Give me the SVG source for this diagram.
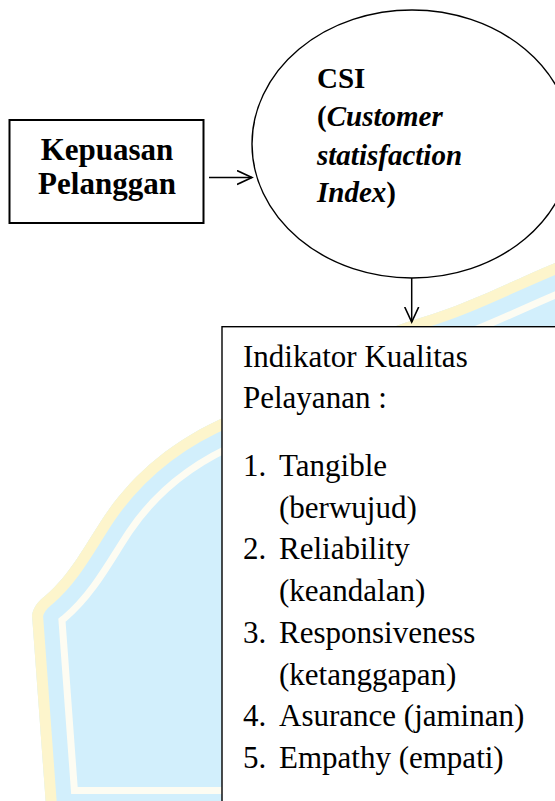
<svg xmlns="http://www.w3.org/2000/svg" width="555" height="801" viewBox="0 0 555 801">
<defs>
<style>
.node{fill:#ffffff;stroke:#000000}
.t{font-family:"Liberation Serif","Times New Roman",serif;font-size:31px;fill:#000000}
.c{font-size:29px}
.b{font-weight:bold}
.i{font-style:italic}
.conn{stroke:#000000;stroke-width:1.5;fill:none}
</style>
<clipPath id="shieldClip"><path id="shieldShape" d="M47,820 L32,615 C34,605 40,600 45,596 C70,575 85,545 105,515 C130,478 170,440 230,415 C290,390 330,345 420,318 C480,300 520,275 600,245 L700,245 L700,820 Z"/></clipPath>
<marker id="arr" markerUnits="userSpaceOnUse" markerWidth="20" markerHeight="20" refX="15" refY="8" orient="auto"><path d="M0,1 L15,8 L0,15" fill="none" stroke="#000" stroke-width="1.6"/></marker>
</defs>
<rect width="555" height="801" fill="#ffffff"/>
<g id="watermark" clip-path="url(#shieldClip)">
<use href="#shieldShape" fill="#d2effc"/>
<use href="#shieldShape" fill="none" stroke="#fdfcf2" stroke-width="66"/>
<use href="#shieldShape" fill="none" stroke="#d2effc" stroke-width="52"/>
<use href="#shieldShape" fill="none" stroke="#fdf5cc" stroke-width="22"/>
</g>
<g id="connectors">
<line class="conn" x1="209" y1="177.5" x2="252" y2="177.5" marker-end="url(#arr)"/>
<line class="conn" x1="411.7" y1="278" x2="411.7" y2="322" marker-end="url(#arr)"/>
</g>
<g id="node-kepuasan">
<rect class="node" x="9.5" y="120" width="194" height="103" stroke-width="2"/>
<text class="t b" x="107" y="160" text-anchor="middle">Kepuasan</text>
<text class="t b" x="107" y="194" text-anchor="middle">Pelanggan</text>
</g>
<g id="node-csi">
<ellipse class="node" cx="412" cy="144" rx="160" ry="134" stroke-width="1.4"/>
<text class="t c b" x="317" y="87.5">CSI</text>
<text class="t c b" x="317" y="125.5">(<tspan class="i">Customer</tspan></text>
<text class="t c b i" x="317" y="164.5">statisfaction</text>
<text class="t c b" x="317" y="202"><tspan class="i">Index</tspan>)</text>
</g>
<g id="node-indikator">
<rect class="node" x="222" y="326.7" width="400" height="500" stroke-width="1.4"/>
<text class="t" x="243" y="366.7">Indikator Kualitas</text>
<text class="t" x="243" y="408.4">Pelayanan :</text>
<text class="t" x="243" y="476">1.</text><text class="t" x="279" y="476">Tangible</text>
<text class="t" x="279" y="517.7">(berwujud)</text>
<text class="t" x="243" y="559.4">2.</text><text class="t" x="279" y="559.4">Reliability</text>
<text class="t" x="279" y="601.1">(keandalan)</text>
<text class="t" x="243" y="642.8">3.</text><text class="t" x="279" y="642.8">Responsiveness</text>
<text class="t" x="279" y="684.5">(ketanggapan)</text>
<text class="t" x="243" y="726.2">4.</text><text class="t" x="279" y="726.2">Asurance (jaminan)</text>
<text class="t" x="243" y="767.9">5.</text><text class="t" x="279" y="767.9">Empathy (empati)</text>
</g>
</svg>
